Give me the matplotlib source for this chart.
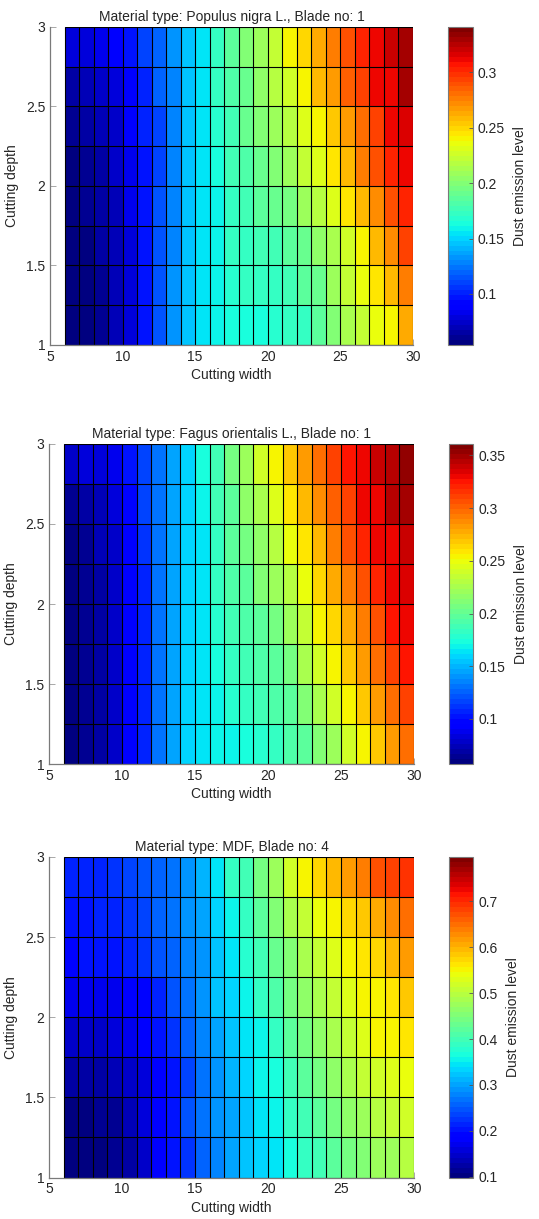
import matplotlib.pyplot as plt
import numpy as np
from matplotlib.ticker import MultipleLocator, FormatStrFormatter

plt.rcParams['font.family'] = ['Liberation Sans', 'DejaVu Sans']
plt.rcParams['font.size'] = 10

# grid edges (cells are drawn between these, like MATLAB pcolor)
cutting_width = [6, 7, 8, 9, 10, 11, 12, 13, 14, 15, 16, 17, 18, 19, 20,
                 21, 22, 23, 24, 25, 26, 27, 28, 29, 30]
cutting_depth = [1.0, 1.25, 1.5, 1.75, 2.0, 2.25, 2.5, 2.75, 3.0]

# dust emission per cell, first row is depth 1.0, last row depth 2.75
populus = [
    [.055, .057, .062, .068, .080, .096, .115, .133, .145, .154, .160, .166, .166, .166, .169, .171, .174, .188, .199, .212, .221, .235, .242, .261],
    [.055, .057, .062, .068, .080, .096, .115, .133, .145, .154, .160, .167, .171, .171, .174, .177, .185, .193, .208, .220, .234, .243, .257, .276],
    [.055, .058, .063, .069, .080, .096, .115, .130, .144, .153, .160, .171, .174, .177, .179, .185, .193, .202, .214, .228, .242, .256, .273, .293],
    [.056, .059, .064, .070, .081, .096, .115, .130, .144, .153, .160, .174, .179, .185, .191, .196, .208, .219, .233, .245, .257, .273, .288, .305],
    [.058, .061, .066, .072, .082, .096, .112, .130, .144, .155, .166, .177, .182, .191, .199, .208, .220, .233, .243, .259, .274, .288, .303, .312],
    [.060, .064, .069, .074, .087, .099, .112, .128, .144, .157, .169, .179, .191, .199, .208, .219, .233, .241, .253, .269, .281, .294, .311, .317],
    [.064, .068, .072, .077, .087, .103, .119, .130, .148, .157, .172, .184, .193, .205, .216, .227, .241, .257, .269, .283, .296, .311, .314, .329],
    [.077, .079, .082, .087, .095, .108, .121, .133, .147, .157, .171, .188, .199, .210, .224, .238, .249, .262, .276, .291, .305, .314, .322, .332],
]

fagus = [
    [.059, .062, .069, .078, .092, .109, .131, .143, .157, .162, .169, .170, .175, .178, .184, .190, .199, .211, .223, .240, .255, .267, .282, .297],
    [.059, .062, .069, .078, .092, .109, .131, .143, .157, .163, .169, .177, .181, .187, .190, .196, .211, .224, .240, .255, .268, .282, .299, .311],
    [.059, .062, .069, .078, .092, .109, .131, .143, .157, .166, .172, .184, .187, .193, .199, .208, .225, .242, .255, .267, .283, .297, .311, .323],
    [.059, .062, .069, .078, .092, .109, .131, .143, .157, .166, .178, .187, .193, .196, .208, .220, .237, .252, .264, .278, .293, .307, .324, .331],
    [.059, .063, .070, .079, .092, .109, .131, .143, .157, .166, .181, .190, .199, .211, .220, .232, .248, .265, .278, .293, .308, .321, .331, .336],
    [.061, .066, .072, .080, .092, .112, .131, .143, .159, .166, .184, .196, .208, .217, .232, .249, .258, .275, .290, .305, .321, .329, .332, .341],
    [.066, .070, .075, .083, .097, .114, .131, .143, .159, .169, .187, .199, .214, .225, .243, .259, .272, .288, .303, .313, .328, .332, .342, .348],
    [.077, .082, .084, .088, .100, .114, .131, .145, .159, .172, .187, .205, .223, .240, .255, .268, .282, .297, .313, .323, .332, .341, .346, .354],
]

mdf = [
    [.103, .104, .108, .115, .127, .152, .178, .201, .229, .257, .278, .295, .317, .334, .343, .363, .384, .403, .424, .445, .458, .473, .479, .492],
    [.098, .103, .113, .118, .134, .157, .178, .207, .240, .262, .284, .301, .322, .339, .356, .384, .403, .424, .445, .465, .479, .492, .506, .520],
    [.122, .125, .129, .134, .146, .161, .178, .207, .234, .262, .290, .311, .328, .350, .370, .397, .424, .445, .465, .485, .506, .520, .533, .540],
    [.144, .146, .149, .154, .164, .178, .201, .224, .251, .273, .301, .322, .339, .356, .390, .417, .438, .465, .485, .506, .527, .546, .552, .559],
    [.164, .166, .168, .172, .178, .191, .218, .240, .262, .284, .317, .336, .350, .384, .410, .438, .465, .485, .506, .533, .549, .552, .566, .583],
    [.191, .197, .201, .207, .218, .224, .240, .257, .273, .290, .322, .346, .377, .403, .431, .458, .485, .506, .533, .552, .561, .574, .594, .615],
    [.201, .207, .213, .218, .229, .234, .251, .268, .284, .301, .334, .350, .390, .424, .458, .485, .513, .540, .552, .574, .587, .607, .627, .651],
    [.213, .218, .218, .224, .234, .240, .257, .268, .290, .315, .343, .384, .403, .438, .479, .520, .546, .577, .596, .619, .640, .669, .683, .697],
]

titles = ["Material type: Populus nigra L., Blade no: 1",
          "Material type: Fagus orientalis L., Blade no: 1",
          "Material type: MDF, Blade no: 4"]
color_limits = [(0.054, 0.341), (0.057, 0.361), (0.098, 0.797)]
cbar_steps = [0.05, 0.05, 0.1]

AX_COLOR = '#262626'


def draw_panel(fig, rect, cax_rect, values, title, clim, step):
    """one pcolor-like panel with its own colorbar"""
    ax = fig.add_axes(rect)
    mesh = ax.pcolormesh(cutting_width, cutting_depth, np.array(values),
                         cmap=plt.get_cmap('jet', 64),
                         vmin=clim[0], vmax=clim[1],
                         edgecolors='none', linewidth=0, zorder=1)

    # cell borders as separate lines, pcolormesh edges render unevenly
    ax.vlines(cutting_width, cutting_depth[0], cutting_depth[-1],
              colors='black', linewidth=0.8, zorder=2)
    ax.hlines(cutting_depth, cutting_width[0], cutting_width[-1],
              colors='black', linewidth=0.8, zorder=2)

    ax.set_xlim(5, 30)
    ax.set_ylim(1, 3)
    ax.set_axisbelow(True)
    ax.xaxis.set_major_locator(MultipleLocator(5))
    ax.yaxis.set_major_locator(MultipleLocator(0.5))
    ax.yaxis.set_major_formatter(FormatStrFormatter('%g'))
    ax.tick_params(direction='in', length=4, width=0.6, colors='#9a9a9a',
                   labelcolor=AX_COLOR, labelsize=10)

    # MATLAB look: no box, gray axis lines
    ax.spines['top'].set_visible(False)
    ax.spines['right'].set_visible(False)
    for side in ['left', 'bottom']:
        ax.spines[side].set_color('#7a7a7a')
        ax.spines[side].set_linewidth(0.9)
        ax.spines[side].set_zorder(3)

    ax.set_title(title, fontsize=10, color=AX_COLOR, pad=4)
    ax.set_xlabel("Cutting width", fontsize=10, color=AX_COLOR, labelpad=3)
    ax.set_ylabel("Cutting depth", fontsize=10, color=AX_COLOR, labelpad=5)

    cax = fig.add_axes(cax_rect)
    cbar = fig.colorbar(mesh, cax=cax)
    cbar.locator = MultipleLocator(step)
    cbar.formatter = FormatStrFormatter('%g')
    cbar.update_ticks()
    cbar.ax.tick_params(direction='in', length=3, width=0.6, colors='#555555',
                        labelcolor=AX_COLOR, labelsize=10)
    cbar.outline.set_edgecolor('#7a7a7a')
    cbar.outline.set_linewidth(0.8)
    cbar.set_label("Dust emission level", fontsize=10, color=AX_COLOR, labelpad=6)


def main():
    fig = plt.figure(figsize=(5.39, 12.19), dpi=100)

    ax_rects = [[0.0928, 0.717, 0.673, 0.261],
                [0.0909, 0.373, 0.677, 0.263],
                [0.0909, 0.034, 0.677, 0.263]]
    cax_rects = [[0.831, 0.717, 0.046, 0.261],
                 [0.833, 0.373, 0.045, 0.263],
                 [0.833, 0.034, 0.045, 0.263]]

    data = [populus, fagus, mdf]
    for i in range(3):
        draw_panel(fig, ax_rects[i], cax_rects[i], data[i], titles[i],
                   color_limits[i], cbar_steps[i])

    fig.savefig("out.png", dpi=100)
    plt.close(fig)


if __name__ == "__main__":
    main()
